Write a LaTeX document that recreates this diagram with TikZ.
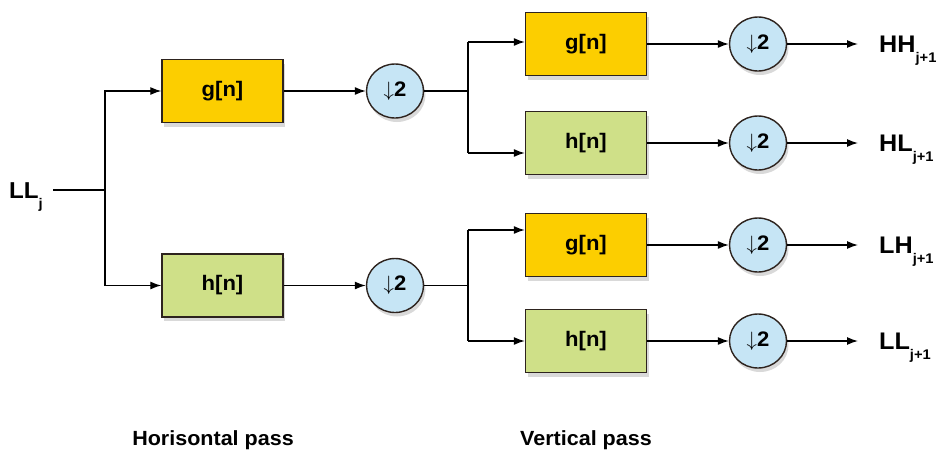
\documentclass[tikz,border=0pt]{standalone}
\usepackage{fontspec}
\setmainfont{Liberation Sans}[FakeStretch=1.05]
\usetikzlibrary{arrows.meta,shadows,shapes.geometric}
\definecolor{gfill}{RGB}{252,206,0}
\definecolor{hfill}{RGB}{207,224,136}
\definecolor{dfill}{RGB}{198,229,245}
\definecolor{edge}{RGB}{45,35,30}
\newcommand{\dnarrow}{\textbf{$\downarrow$2}}
\newcommand{\sublbl}[2]{\textbf{#1}\raisebox{-10pt}{\fontsize{14}{14}\selectfont\bfseries #2}}
\tikzset{
filt/.style={draw=edge, line width=1.4pt, minimum width=121pt, minimum height=63pt, inner sep=0pt,
  font=\bfseries\fontsize{21}{22}\selectfont,
  drop shadow={opacity=0.3, shadow xshift=2pt, shadow yshift=-4pt}},
gbox/.style={filt, fill=gfill},
hbox/.style={filt, fill=hfill},
dsamp/.style={ellipse, draw=edge, line width=1.4pt, fill=dfill, minimum width=57pt, minimum height=54pt, inner sep=0pt,
  font=\fontsize{21}{22}\selectfont,
  drop shadow={opacity=0.3, shadow xshift=2pt, shadow yshift=-4pt}},
sig/.style={-{Latex[length=11pt,width=8pt]}, line width=1.3pt},
wire/.style={line width=1.3pt},
lbl/.style={font=\fontsize{24}{26}\selectfont, inner sep=0pt},
pass/.style={font=\bfseries\fontsize{20.5}{22}\selectfont, inner sep=0pt}
}
\begin{document}
\begin{tikzpicture}[x=1pt,y=-1pt]
\useasboundingbox (0,0) rectangle (940,450);

% horizontal pass
\node[lbl, anchor=base west, font=\fontsize{23}{26}\selectfont] (in) at (9,198) {\sublbl{LL}{j}};
\coordinate (s1) at (105,190);
\node[gbox] (g1) at (222.5,91) {g[n]};
\node[hbox] (h1) at (222.5,285.5) {h[n]};
\node[dsamp] (d1) at (395,91) {\dnarrow};
\node[dsamp] (d2) at (395,285.5) {\dnarrow};

% vertical pass
\coordinate (s2) at (468,91);
\coordinate (s3) at (468,285.5);
\coordinate (s2a) at (468,42);
\coordinate (s2b) at (468,153);
\coordinate (s3a) at (468,230);
\coordinate (s3b) at (468,341);
\node[gbox] (g2) at (586,44) {g[n]};
\node[hbox] (h2) at (586,143) {h[n]};
\node[gbox] (g3) at (586,245) {g[n]};
\node[hbox] (h3) at (586,341) {h[n]};
\node[dsamp] (d3) at (758,44) {\dnarrow};
\node[dsamp] (d4) at (758,143) {\dnarrow};
\node[dsamp] (d5) at (758,245) {\dnarrow};
\node[dsamp] (d6) at (758,341) {\dnarrow};

% outputs
\coordinate (o3) at (858,44);
\coordinate (o4) at (858,143);
\coordinate (o5) at (858,245);
\coordinate (o6) at (858,341);
\node[lbl, anchor=base west] (hh) at (879,52) {\sublbl{HH}{j+1}};
\node[lbl, anchor=base west] (hl) at (879,151) {\sublbl{HL}{j+1}};
\node[lbl, anchor=base west] (lh) at (879,253) {\sublbl{LH}{j+1}};
\node[lbl, anchor=base west] (ll) at (879,349) {\sublbl{LL}{j+1}};

\node[pass, anchor=base] (hp) at (213,445) {Horisontal pass};
\node[pass, anchor=base] (vp) at (586,445) {Vertical pass};

% connections
\draw[wire] (53,190) -- (s1);
\draw[sig] (s1) |- (g1.west);
\draw[sig] (s1) |- (h1.west);
\draw[sig] (g1) -- (d1);
\draw[sig] (h1) -- (d2);
\draw[wire] (d1) -- (s2);
\draw[wire] (d2) -- (s3);
\draw[wire] (s2a) -- (s2b);
\draw[wire] (s3a) -- (s3b);
\draw[sig] (s2a) -- (s2a -| g2.west);
\draw[sig] (s2b) -- (s2b -| h2.west);
\draw[sig] (s3a) -- (s3a -| g3.west);
\draw[sig] (s3b) -- (s3b -| h3.west);
\draw[sig] (g2) -- (d3);
\draw[sig] (h2) -- (d4);
\draw[sig] (g3) -- (d5);
\draw[sig] (h3) -- (d6);
\draw[sig] (d3) -- (o3);
\draw[sig] (d4) -- (o4);
\draw[sig] (d5) -- (o5);
\draw[sig] (d6) -- (o6);
\end{tikzpicture}
\end{document}
